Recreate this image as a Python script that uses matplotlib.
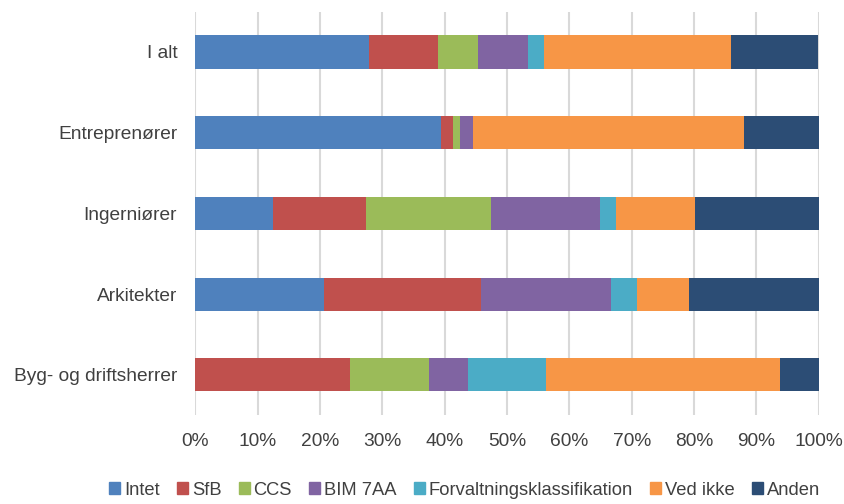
import numpy as np
import matplotlib.pyplot as plt
from matplotlib.patches import Patch
from matplotlib.ticker import PercentFormatter

plt.rcParams['font.family'] = ['Liberation Sans', 'DejaVu Sans']

groups = ["I alt", "Entreprenører", "Ingerniører", "Arkitekter", "Byg- og driftsherrer"]
series = ["Intet", "SfB", "CCS", "BIM 7AA", "Forvaltningsklassifikation", "Ved ikke", "Anden"]
colors = ["#4F81BD", "#C0504D", "#9BBB59", "#8064A2", "#4BACC6", "#F79646", "#2C4D75"]

# andel i procent, en liste pr. serie (rækkefølge som groups)
intet = [27.8, 39.4, 12.5, 20.7, 0.0]
sfb = [11.1, 2.0, 14.9, 25.1, 24.9]
ccs = [6.5, 1.1, 20.1, 0.0, 12.6]
bim7aa = [8.0, 2.0, 17.4, 20.8, 6.2]
forvaltning = [2.6, 0.0, 2.6, 4.2, 12.6]
ved_ikke = [30.0, 43.5, 12.6, 8.4, 37.5]
anden = [13.9, 12.1, 20.0, 20.8, 6.3]

values = [intet, sfb, ccs, bim7aa, forvaltning, ved_ikke, anden]

fig = plt.figure(figsize=(8.45, 5.04), dpi=100)
ax = fig.add_axes([0.231, 0.176, 0.738, 0.801])

y = np.arange(len(groups))
left = np.zeros(len(groups))
for name, vals, col in zip(series, values, colors):
    vals = np.array(vals)
    ax.barh(y, vals, left=left, height=0.41, color=col, label=name, zorder=3)
    left += vals

ax.set_xlim(0, 100)
ax.set_ylim(len(groups) - 0.5, -0.5)
ax.set_xticks(np.arange(0, 101, 10))
ax.xaxis.set_major_formatter(PercentFormatter(decimals=0))
ax.set_yticks(y)
ax.set_yticklabels(groups)
ax.grid(axis="x", color="#D9D9D9", linewidth=1.5, zorder=0)
for s in ax.spines.values():
    s.set_visible(False)
ax.tick_params(length=0, labelsize=13.8, colors="#404040")
ax.tick_params(axis="y", pad=13)
ax.tick_params(axis="x", pad=13)

handles = [Patch(color=c, label=n) for n, c in zip(series, colors)]
fig.legend(handles=handles, loc="lower center", bbox_to_anchor=(0.55, -0.022), ncol=7,
           frameon=False, fontsize=13.2, handlelength=0.6, handleheight=0.6,
           handletextpad=0.2, columnspacing=0.95, labelcolor="#404040")

fig.savefig("out.png", dpi=100)
